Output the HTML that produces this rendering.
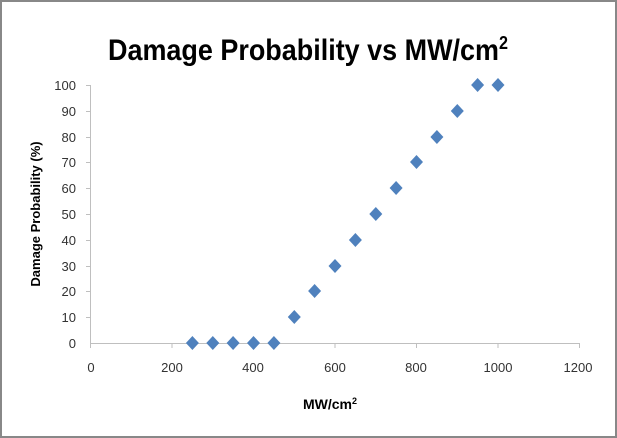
<!DOCTYPE html>
<html><head><style>
body{margin:0;background:#fff;}
svg{display:block;}
</style></head><body>
<svg width="617" height="438" xmlns="http://www.w3.org/2000/svg" font-family="'Liberation Sans Narrow','Liberation Sans',sans-serif">
<rect x="1" y="1" width="615" height="436" fill="#fff" stroke="#888" stroke-width="2"/>
<text x="308" y="60" text-anchor="middle" font-size="30" font-weight="bold" textLength="400" lengthAdjust="spacingAndGlyphs">Damage Probability vs MW/cm<tspan font-size="18" dy="-11">2</tspan></text>
<g stroke="#bfbfbf" stroke-width="1">
<line x1="90.5" y1="85" x2="90.5" y2="343"/>
<line x1="90" y1="343.5" x2="580" y2="343.5"/>
<line x1="86" y1="85.5" x2="90" y2="85.5"/><line x1="86" y1="111.5" x2="90" y2="111.5"/><line x1="86" y1="137.5" x2="90" y2="137.5"/><line x1="86" y1="162.5" x2="90" y2="162.5"/><line x1="86" y1="188.5" x2="90" y2="188.5"/><line x1="86" y1="214.5" x2="90" y2="214.5"/><line x1="86" y1="240.5" x2="90" y2="240.5"/><line x1="86" y1="266.5" x2="90" y2="266.5"/><line x1="86" y1="291.5" x2="90" y2="291.5"/><line x1="86" y1="317.5" x2="90" y2="317.5"/>
<line x1="90.5" y1="343" x2="90.5" y2="348"/><line x1="172" y1="343" x2="172" y2="348"/><line x1="253.5" y1="343" x2="253.5" y2="348"/><line x1="335" y1="343" x2="335" y2="348"/><line x1="416.5" y1="343" x2="416.5" y2="348"/><line x1="498" y1="343" x2="498" y2="348"/><line x1="579.5" y1="343" x2="579.5" y2="348"/>
</g>
<g font-size="13" fill="#333" text-anchor="end">
<text x="76" y="90">100</text><text x="76" y="116">90</text><text x="76" y="142">80</text><text x="76" y="167">70</text><text x="76" y="193">60</text><text x="76" y="219">50</text><text x="76" y="245">40</text><text x="76" y="271">30</text><text x="76" y="296">20</text><text x="76" y="322">10</text><text x="76" y="348">0</text>
</g>
<g font-size="13" fill="#333" text-anchor="middle">
<text x="91" y="372">0</text><text x="172" y="372">200</text><text x="253" y="372">400</text><text x="335" y="372">600</text><text x="416" y="372">800</text><text x="498" y="372">1000</text><text x="578" y="372">1200</text>
</g>
<text x="330" y="409" text-anchor="middle" font-size="14" font-weight="bold">MW/cm<tspan font-size="9" dy="-5">2</tspan></text>
<text transform="translate(40,214) rotate(-90)" text-anchor="middle" font-size="13" font-weight="bold">Damage Probability (%)</text>
<g fill="#4f81bd">
<path d="M192.4,336l6.5,7l-6.5,7l-6.5,-7z"/><path d="M212.8,336l6.5,7l-6.5,7l-6.5,-7z"/><path d="M233.1,336l6.5,7l-6.5,7l-6.5,-7z"/><path d="M253.5,336l6.5,7l-6.5,7l-6.5,-7z"/><path d="M273.9,336l6.5,7l-6.5,7l-6.5,-7z"/>
<path d="M294.3,310l6.5,7l-6.5,7l-6.5,-7z"/><path d="M314.6,284l6.5,7l-6.5,7l-6.5,-7z"/><path d="M335,259l6.5,7l-6.5,7l-6.5,-7z"/><path d="M355.4,233l6.5,7l-6.5,7l-6.5,-7z"/><path d="M375.8,207l6.5,7l-6.5,7l-6.5,-7z"/><path d="M396.1,181l6.5,7l-6.5,7l-6.5,-7z"/><path d="M416.5,155l6.5,7l-6.5,7l-6.5,-7z"/><path d="M436.9,130l6.5,7l-6.5,7l-6.5,-7z"/><path d="M457.3,104l6.5,7l-6.5,7l-6.5,-7z"/><path d="M477.6,78l6.5,7l-6.5,7l-6.5,-7z"/><path d="M498,78l6.5,7l-6.5,7l-6.5,-7z"/>
</g>
</svg>
</body></html>
